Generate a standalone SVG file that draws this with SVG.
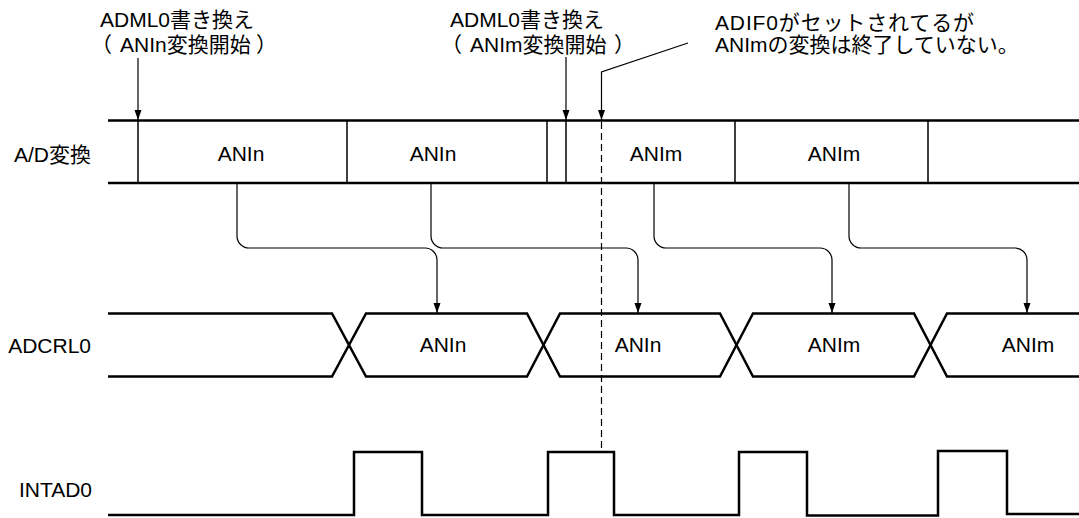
<svg xmlns="http://www.w3.org/2000/svg" width="1079" height="518" viewBox="0 0 1079 518">
<defs>
<style>
text{font-family:"Liberation Sans","Noto Sans CJK JP",sans-serif;font-size:21px;fill:#000}
.lbl{text-anchor:end}
.mid{text-anchor:middle}
.bus{fill:none;stroke:#000;stroke-width:2.5}
.div{fill:none;stroke:#000;stroke-width:1.5}
.con{fill:none;stroke:#000;stroke-width:1.2}
.dash{fill:none;stroke:#000;stroke-width:1.2;stroke-dasharray:7,4}
</style>
<marker id="ah" viewBox="0 0 10 10" refX="10" refY="5" markerWidth="10" markerHeight="10" markerUnits="userSpaceOnUse" orient="auto">
<path d="M0,1.5 L10,5 L0,8.5 Z" fill="#000"/>
</marker>
</defs>
<rect width="1079" height="518" fill="#fff"/>

<g id="annotations">
<text x="100" y="27">ADML0書き換え</text>
<text y="52"><tspan x="91">（</tspan><tspan x="120">ANIn変換開始</tspan><tspan x="256">）</tspan></text>
<text x="450" y="27">ADML0書き換え</text>
<text y="52"><tspan x="441">（</tspan><tspan x="470">ANIm変換開始</tspan><tspan x="614">）</tspan></text>
<text x="715" y="30" textLength="259" lengthAdjust="spacing">ADIF0がセットされてるが</text>
<text x="715" y="52">ANImの変換は終了していない。</text>
</g>

<g id="row-ad">
<text class="lbl" x="91" y="162">A/D変換</text>
<path class="bus" d="M108,120.5 H1079 M108,183 H1079"/>
<path class="div" d="M347,120.5 V183 M547,120.5 V183 M735,120.5 V183 M928,120.5 V183"/>
<text class="mid" x="241" y="161">ANIn</text>
<text class="mid" x="433" y="161">ANIn</text>
<text class="mid" x="656" y="161">ANIm</text>
<text class="mid" x="834" y="161">ANIm</text>
</g>

<g id="row-adcrl">
<text class="lbl" x="91" y="353">ADCRL0</text>
<path class="bus" d="M108,313.5 H332 L366,376.5 H527 L560,313.5 H720 L753,376.5 H914 L947,313.5 H1079"/>
<path class="bus" d="M108,376.5 H332 L366,313.5 H527 L560,376.5 H720 L753,313.5 H914 L947,376.5 H1079"/>
<text class="mid" x="443" y="352">ANIn</text>
<text class="mid" x="638" y="352">ANIn</text>
<text class="mid" x="834" y="352">ANIm</text>
<text class="mid" x="1028" y="352">ANIm</text>
</g>

<g id="row-intad">
<text class="lbl" x="92" y="497">INTAD0</text>
<path class="bus" d="M108,515 H354 V452 H422 V515 H548 V452 H614 V515 H739 V452 H807 V515.5 H938 V451 H1007 V514 H1079"/>
</g>

<g id="connectors">
<path class="con" d="M138,58 V120" marker-end="url(#ah)"/>
<path class="div" d="M138,120.5 V183"/>
<path class="con" d="M566,57 V120" marker-end="url(#ah)"/>
<path class="div" d="M566,120.5 V183"/>
<path class="con" d="M688,43 L601.5,72 V120" marker-end="url(#ah)"/>
<path class="dash" d="M601.5,122 V452"/>
<path class="con" d="M237,183 V236 A12,12 0 0 0 249,248 H425 A12,12 0 0 1 437,260 V313" marker-end="url(#ah)"/>
<path class="con" d="M431,183 V236 A12,12 0 0 0 443,248 H626 A12,12 0 0 1 638,260 V313" marker-end="url(#ah)"/>
<path class="con" d="M654,183 V236 A12,12 0 0 0 666,248 H820 A12,12 0 0 1 832,260 V313" marker-end="url(#ah)"/>
<path class="con" d="M849,183 V236 A12,12 0 0 0 861,248 H1015 A12,12 0 0 1 1027,260 V313" marker-end="url(#ah)"/>
</g>
</svg>
